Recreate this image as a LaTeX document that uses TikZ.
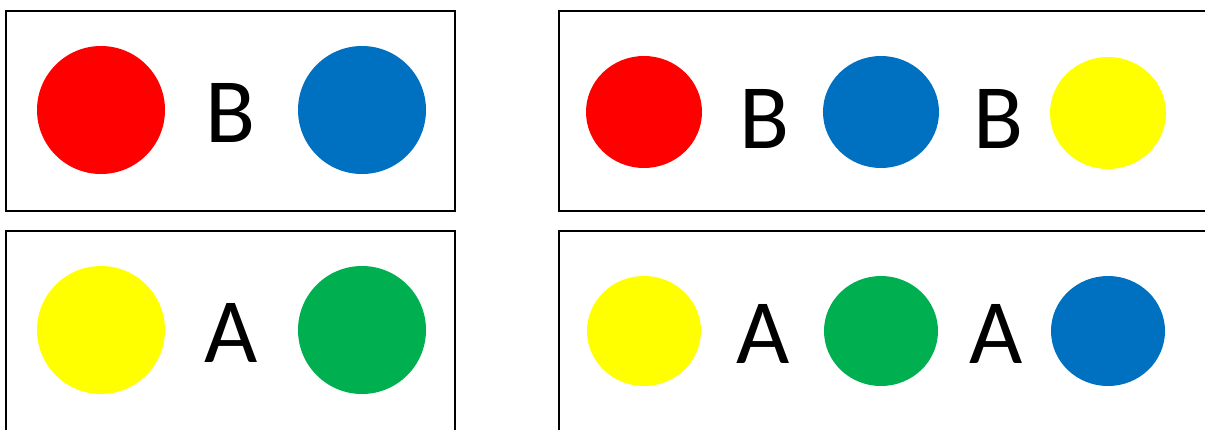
\documentclass[tikz,border=0pt]{standalone}
\usepackage{fontspec}
\setmainfont{Carlito}
\definecolor{cred}{HTML}{FF0000}
\definecolor{cblue}{HTML}{0070C0}
\definecolor{cyellow}{HTML}{FFFF00}
\definecolor{cgreen}{HTML}{00B050}
\begin{document}
\begin{tikzpicture}[x=1pt,y=-1pt,
  panel/.style={draw=black,line width=2pt},
  dot/.style={draw=none},
  letter/.style={inner sep=0pt,font=\fontsize{92}{92}\selectfont}]
\useasboundingbox (0,0) rectangle (1205,429);
\clip (0,0) rectangle (1205,429);
% panels
\draw[panel] (6,11) rectangle (455,211);
\draw[panel] (6,231) rectangle (455,445);
\draw[panel] (559,11) rectangle (1220,211);
\draw[panel] (559,231) rectangle (1220,445);
% left top
\fill[cred] (101,110) circle (64);
\node[letter] (lb) at (231,113) {B};
\fill[cblue] (362,110) circle (64);
% left bottom
\fill[cyellow] (101,330) circle (64);
\node[letter] (la) at (231,333) {A};
\fill[cgreen] (362,330) circle (64);
% right top
\fill[cred] (644,112) ellipse (58 and 56);
\node[letter] (rb1) at (765,119) {B};
\fill[cblue] (881,112) ellipse (58 and 56);
\node[letter] (rb2) at (999,119) {B};
\fill[cyellow] (1108,113) ellipse (58 and 56);
% right bottom
\fill[cyellow] (644,331) ellipse (57 and 55);
\node[letter] (ra1) at (763,334) {A};
\fill[cgreen] (881,331) ellipse (57 and 55);
\node[letter] (ra2) at (996,334) {A};
\fill[cblue] (1108,331) ellipse (57 and 55);
\end{tikzpicture}
\end{document}
